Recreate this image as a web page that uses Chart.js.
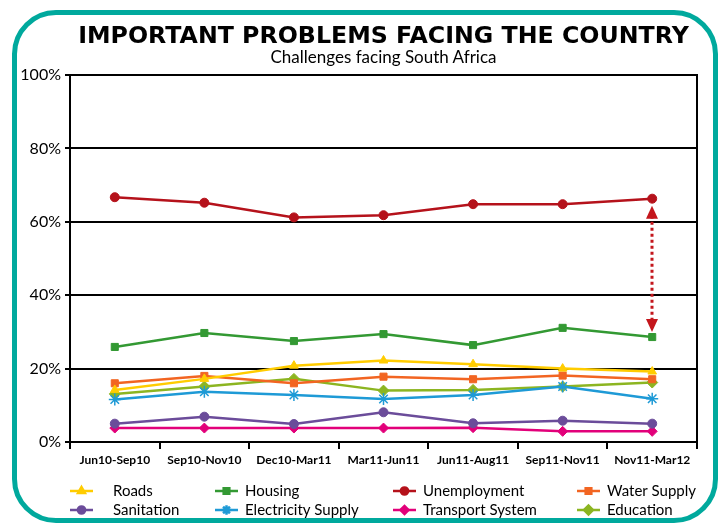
<!DOCTYPE html>
<html>
<head>
<meta charset="utf-8">
<script src="https://cdn.jsdelivr.net/npm/chart.js@4/dist/chart.umd.min.js"></script>
<style>
  body { margin: 0; background: #fff; }
  #wrap { position: relative; width: 720px; height: 525px; overflow: hidden; }
  #frame { position: absolute; left: 12px; top: 10px; width: 696px; height: 503px; border: 5px solid #00a99d; border-radius: 44px; }
  #title { position: absolute; left: 69px; width: 629px; top: 21px; text-align: center; font: bold 23.7px "DejaVu Sans", sans-serif; color: #000; }
  #subtitle { position: absolute; left: 69px; width: 629px; top: 46px; text-align: center; font: 17px Lato, sans-serif; color: #000; }
  #chart { position: absolute; left: 0; top: 0; }
</style>
</head>
<body>
<div id="wrap">
  <div id="frame"></div>
  <canvas id="chart" width="720" height="525"></canvas>
  <div id="title">IMPORTANT PROBLEMS FACING THE COUNTRY</div>
  <div id="subtitle">Challenges facing South Africa</div>
</div>
<script>
var periods = ["Jun10-Sep10", "Sep10-Nov10", "Dec10-Mar11", "Mar11-Jun11", "Jun11-Aug11", "Sep11-Nov11", "Nov11-Mar12"];

var roads        = [14.2, 17.2, 20.8, 22.2, 21.2, 20.0, 19.2];
var housing      = [25.9, 29.7, 27.5, 29.4, 26.4, 31.1, 28.6];
var unemployment = [66.7, 65.2, 61.2, 61.8, 64.8, 64.8, 66.3];
var water        = [16.0, 18.0, 16.0, 17.8, 17.1, 18.1, 17.1];
var sanitation   = [5.0, 6.9, 4.9, 8.1, 5.1, 5.8, 5.0];
var electricity  = [11.6, 13.7, 12.8, 11.7, 12.8, 15.1, 11.8];
var transport    = [3.8, 3.8, 3.8, 3.8, 3.9, 2.9, 2.9];
var education    = [13.1, 15.1, 17.2, 14.0, 14.2, 15.1, 16.2];

var yTicks = [0, 20, 40, 60, 80, 100];

function series(label, data, color, style, r){
  return {
    label: label, data: data,
    borderColor: color, backgroundColor: color,
    borderWidth: 2.5,
    pointStyle: style, pointRadius: r, pointHoverRadius: r,
    pointBorderWidth: style == 'star' ? 1.5 : 1,
    tension: 0
  };
}

var datasets = [
  series("Roads", roads, "#ffcc00", "triangle", 5),
  series("Housing", housing, "#339933", "rect", 5),
  series("Unemployment", unemployment, "#b5121b", "circle", 4.5),
  series("Water Supply", water, "#f26522", "rect", 5),
  series("Sanitation", sanitation, "#6b4c9a", "circle", 4.5),
  series("Electricity Supply", electricity, "#1e9ad6", "star", 6),
  series("Transport System", transport, "#e2007a", "rectRot", 5),
  series("Education", education, "#8cb521", "rectRot", 5.5)
];

// legend layout: [marker start x, text x] per column, two rows
var legendCols = [[70, 113], [215, 245], [393, 423], [577, 607]];
var legendRows = [491, 510];

var extras = {
  id: 'extras',
  afterDraw: function(chart){
    var ctx = chart.ctx;
    var area = chart.chartArea;
    var xs = chart.scales.x, ys = chart.scales.y;

    // right frame line
    ctx.save();
    ctx.strokeStyle = '#000';
    ctx.lineWidth = 2;
    ctx.beginPath();
    ctx.moveTo(area.right, area.top - 1);
    ctx.lineTo(area.right, area.bottom + 7);
    ctx.stroke();
    ctx.restore();

    // dotted double arrow between unemployment and housing at last period
    var last = periods.length - 1;
    var ax = Math.round(xs.getPixelForValue(last));
    var top = ys.getPixelForValue(unemployment[last]) + 7;
    var bot = ys.getPixelForValue(housing[last]) - 5;
    ctx.save();
    ctx.strokeStyle = '#c4161c';
    ctx.fillStyle = '#c4161c';
    ctx.lineWidth = 3;
    ctx.setLineDash([3, 3]);
    ctx.beginPath();
    ctx.moveTo(ax, top + 10);
    ctx.lineTo(ax, bot - 10);
    ctx.stroke();
    ctx.setLineDash([]);
    ctx.beginPath();
    ctx.moveTo(ax, top); ctx.lineTo(ax - 6, top + 13); ctx.lineTo(ax + 6, top + 13); ctx.closePath();
    ctx.fill();
    ctx.beginPath();
    ctx.moveTo(ax, bot); ctx.lineTo(ax - 6, bot - 13); ctx.lineTo(ax + 6, bot - 13); ctx.closePath();
    ctx.fill();
    ctx.restore();

    // legend
    ctx.save();
    ctx.font = '15px Lato, sans-serif';
    ctx.textBaseline = 'middle';
    ctx.fillStyle = '#000';
    datasets.forEach(function(ds, i){
      var col = legendCols[i % 4];
      var y = legendRows[Math.floor(i / 4)];
      ctx.strokeStyle = ds.borderColor;
      ctx.lineWidth = 2.5;
      ctx.beginPath();
      ctx.moveTo(col[0], y);
      ctx.lineTo(col[0] + 23, y);
      ctx.stroke();
      ctx.fillStyle = ds.backgroundColor;
      Chart.helpers.drawPoint(ctx, {
        pointStyle: ds.pointStyle, radius: ds.pointRadius * 0.8,
        borderWidth: ds.pointBorderWidth, rotation: 0
      }, col[0] + 11.5, y);
      ctx.fillStyle = '#000';
      ctx.fillText(ds.label, col[1], y);
    });
    ctx.restore();
  }
};

new Chart(document.getElementById('chart'), {
  type: 'line',
  data: { labels: periods, datasets: datasets },
  options: {
    responsive: false,
    animation: false,
    layout: { padding: { left: 0, right: 23, top: 75, bottom: 53 } },
    plugins: {
      legend: { display: false },
      tooltip: { enabled: false }
    },
    scales: {
      x: {
        offset: true,
        afterFit: function(s){ s.height = 30; },
        grid: { display: true, drawOnChartArea: false, color: '#000', lineWidth: 2, tickLength: 7, offset: true },
        border: { display: true, color: '#000', width: 2 },
        ticks: { color: '#000', font: { family: 'Lato', size: 12, weight: 'bold' }, maxRotation: 0, autoSkip: false, padding: 4 }
      },
      y: {
        min: 0, max: 100,
        afterFit: function(s){ s.width = 70; },
        afterBuildTicks: function(s){ s.ticks = yTicks.map(function(v){ return { value: v }; }); },
        grid: { color: '#000', lineWidth: 2, tickLength: 5 },
        border: { display: true, color: '#000', width: 2 },
        ticks: { color: '#000', font: { family: 'Lato', size: 16 }, padding: 4, callback: function(v){ return v + '%'; } }
      }
    }
  },
  plugins: [extras]
});
</script>
</body>
</html>
